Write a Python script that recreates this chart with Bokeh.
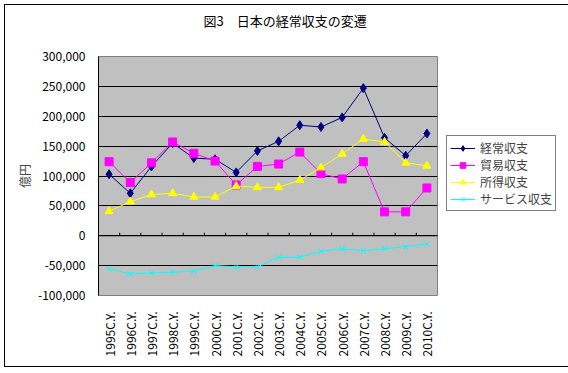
import math
from bokeh.plotting import figure
from bokeh.models import FactorRange, Range1d, Legend, LegendItem, Title, FixedTicker, NumeralTickFormatter, ColumnDataSource
from bokeh.embed import file_html
from bokeh.resources import INLINE

years = ["1995C.Y.", "1996C.Y.", "1997C.Y.", "1998C.Y.", "1999C.Y.", "2000C.Y.",
         "2001C.Y.", "2002C.Y.", "2003C.Y.", "2004C.Y.", "2005C.Y.", "2006C.Y.",
         "2007C.Y.", "2008C.Y.", "2009C.Y.", "2010C.Y."]
current = [103000, 71000, 116000, 155000, 130000, 128000, 106000, 142000,
           158000, 185000, 182000, 198000, 247000, 164000, 134000, 171000]
trade = [124000, 89000, 122000, 157000, 138000, 125000, 85000, 116000,
         120000, 140000, 104000, 95000, 124000, 40000, 40000, 80000]
income = [41000, 57000, 69000, 71000, 65000, 65000, 83000, 81000,
          81000, 93000, 114000, 137000, 162000, 157000, 122000, 117000]
service = [-55000, -64000, -62000, -61000, -59000, -50000, -52000, -52000,
           -36000, -36000, -26000, -22000, -25000, -22000, -18000, -14000]
names = ["経常収支", "貿易収支", "所得収支", "サービス収支"]
y_ticks = [-100000, -50000, 0, 50000, 100000, 150000, 200000, 250000, 300000]
title_text = "図3\u3000日本の経常収支の変遷"
y_title = "億円"

FONT = "Noto Sans CJK JP"
FW, FH = 339, 239
YMIN, YMAX = -100000, 300000

p = figure(x_range=FactorRange(factors=years, range_padding=0),
           y_range=Range1d(YMIN, YMAX),
           frame_width=FW, frame_height=FH,
           min_border_left=93, min_border_right=124,
           min_border_top=51, min_border_bottom=71,
           output_backend="svg", toolbar_location=None, title=None,
           styles={"margin-left": "4px", "margin-top": "4px",
                   "border": "1px solid black", "box-sizing": "content-box"})

p.background_fill_color = "#C0C0C0"
p.border_fill_color = "white"
p.outline_line_color = "#808080"
p.outline_line_width = 1

p.xgrid.visible = False
p.ygrid.grid_line_color = "black"
p.ygrid.grid_line_width = 1

p.yaxis.ticker = FixedTicker(ticks=y_ticks)
p.yaxis.formatter = NumeralTickFormatter(format="0,0")
p.yaxis.axis_line_color = "black"
p.yaxis.major_tick_out = 0
p.yaxis.major_tick_in = 0
p.yaxis.minor_tick_out = 0
p.yaxis.minor_tick_in = 0
p.yaxis.major_label_standoff = 13
p.yaxis.major_label_text_font = FONT
p.yaxis.major_label_text_font_size = "12px"
p.yaxis.major_label_text_color = "black"
p.yaxis.axis_label = y_title
p.yaxis.axis_label_text_font = FONT
p.yaxis.axis_label_text_font_size = "12px"
p.yaxis.axis_label_text_font_style = "normal"
p.yaxis.axis_label_standoff = 2

p.xaxis.axis_line_color = None
p.xaxis.major_tick_line_color = None
p.xaxis.major_label_orientation = math.pi / 2
p.xaxis.major_label_standoff = 10
p.xaxis.major_label_text_font = FONT
p.xaxis.major_label_text_font_size = "12px"
p.xaxis.major_label_text_color = "black"

# category axis at zero with tick marks between categories
px_per_unit = FH / (YMAX - YMIN)
tick_len = 3 / px_per_unit
bounds = list(range(1, len(years)))
p.segment(x0=bounds, x1=bounds, y0=[0] * len(bounds), y1=[tick_len] * len(bounds),
          line_color="black", line_width=1)
p.segment(x0=[0], x1=[len(years)], y0=[0], y1=[0], line_color="black", line_width=1)

src = ColumnDataSource(dict(x=years, current=current, trade=trade, income=income, service=service))

items = []
specs = [("current", "#000080", "diamond", 9),
         ("trade", "#FF00FF", "square", 8),
         ("income", "#FFFF00", "triangle", 8),
         ("service", "#00FFFF", "x", 7)]
for (col, color, marker, size), name in zip(specs, names):
    r1 = p.line("x", col, source=src, line_color=color, line_width=1)
    r2 = p.scatter("x", col, source=src, marker=marker, size=size,
                   fill_color=color, line_color=color, line_width=1)
    items.append(LegendItem(label=name, renderers=[r1, r2]))

legend = Legend(items=items, location=(9, 84),
                border_line_color="black", border_line_width=1,
                background_fill_color="white", background_fill_alpha=1,
                label_text_font=FONT, label_text_font_size="12px",
                glyph_width=25, glyph_height=14, label_height=14,
                label_standoff=5, spacing=0, padding=3, margin=0)
p.add_layout(legend, "right")

# spacer between the frame and the title (first added sits next to the frame)
spacer = Title(text=" ", standoff=0, text_font=FONT, text_font_size="13px",
               text_color="white")
p.add_layout(spacer, "above")
title = Title(text=title_text, align="left", offset=105, standoff=8,
              vertical_align="top",
              text_font=FONT, text_font_size="13px", text_font_style="normal",
              text_color="black")
p.add_layout(title, "above")

open("out.html", "w").write(file_html(p, INLINE))
